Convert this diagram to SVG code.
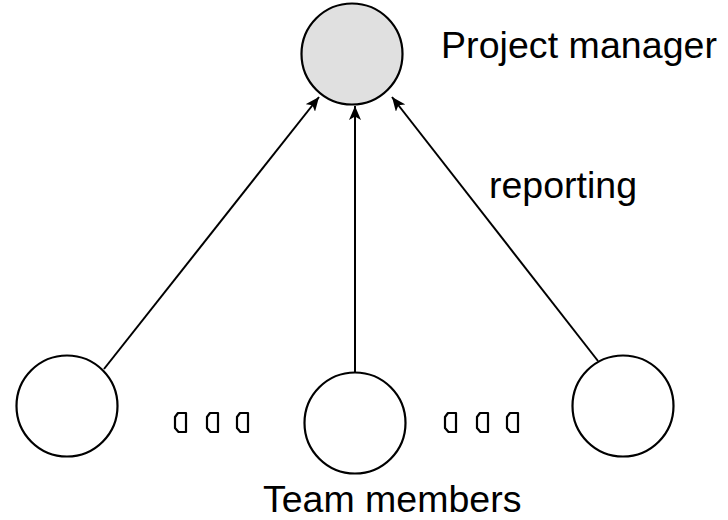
<svg xmlns="http://www.w3.org/2000/svg" width="728" height="520" viewBox="0 0 728 520">
  <defs>
    <marker id="arrow" viewBox="0 0 15 12" refX="14" refY="6" markerWidth="15" markerHeight="12" markerUnits="userSpaceOnUse" orient="auto">
      <path d="M14,6 L0,0 L3.5,6 L0,12 Z" fill="#000"/>
    </marker>
    <path id="dot" d="M4,0 H12 V19 H4.5 L1,15 V4 Z"/>
  </defs>
  <style>
    .node { fill: #fff; stroke: #000; stroke-width: 2.2; }
    .pm { fill: #e0e0e0; }
    .edge { stroke: #000; stroke-width: 2; fill: none; marker-end: url(#arrow); }
    .lbl { font-family: "Liberation Sans", Arial, sans-serif; font-size: 37.5px; fill: #000; }
    .dots use { fill: #fff; stroke: #000; stroke-width: 2.2; stroke-linejoin: round; }
  </style>
  <rect width="728" height="520" fill="#fff"/>
  <g id="connectors">
    <line class="edge" x1="104" y1="369" x2="319" y2="97"/>
    <line class="edge" x1="355" y1="372" x2="355" y2="106"/>
    <line class="edge" x1="598" y1="361" x2="392" y2="97"/>
  </g>
  <g id="project-manager">
    <circle class="node pm" cx="352" cy="54" r="50.5"/>
    <text class="lbl" x="441" y="58" textLength="276" lengthAdjust="spacing">Project manager</text>
  </g>
  <g id="member-left">
    <circle class="node" cx="67" cy="406" r="50.5"/>
  </g>
  <g id="member-middle">
    <circle class="node" cx="355" cy="423" r="50.5"/>
  </g>
  <g id="member-right">
    <circle class="node" cx="623" cy="406" r="50.5"/>
  </g>
  <g id="reporting-label">
    <text class="lbl" x="489" y="198">reporting</text>
  </g>
  <g id="team-label">
    <text class="lbl" x="263" y="512">Team members</text>
  </g>
  <g id="ellipsis-left" class="dots">
    <use href="#dot" x="174" y="413"/>
    <use href="#dot" x="206" y="413"/>
    <use href="#dot" x="236" y="413"/>
  </g>
  <g id="ellipsis-right" class="dots">
    <use href="#dot" x="444" y="413"/>
    <use href="#dot" x="476" y="413"/>
    <use href="#dot" x="506" y="413"/>
  </g>
</svg>
